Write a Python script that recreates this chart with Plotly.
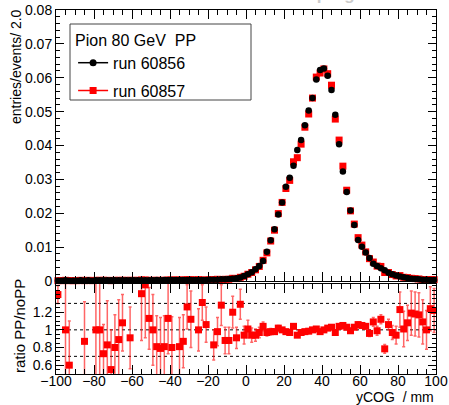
import plotly.graph_objects as go

# bin centres (bin width 2 mm)
ycog = list(range(-99, 100, 2))

run_60856 = [
    0.0001, 0.0001, 0.0002, 0.0001, 0.0001, 0.0001, 0.0002, 0.0001, 0.0002, 0.0001,
    0.0002, 0.0002, 0.0002, 0.0002, 0.0002, 0.0002, 0.0002, 0.0002, 0.0002, 0.0002,
    0.0002, 0.0002, 0.0002, 0.0002, 0.0002, 0.0002, 0.0003, 0.0002, 0.0003, 0.0003,
    0.0003, 0.0003, 0.0003, 0.0003, 0.0003, 0.0003, 0.0003, 0.0003, 0.0003, 0.0003,
    0.0004, 0.0004, 0.0004, 0.0005, 0.0005, 0.0006, 0.0007, 0.0008, 0.0010, 0.0015,
    0.0020, 0.0026, 0.0035, 0.0044, 0.0059, 0.0086, 0.0120, 0.0153, 0.0196, 0.0232,
    0.0278, 0.0305, 0.0340, 0.0387, 0.0416, 0.0460, 0.0503, 0.0540, 0.0595, 0.0623,
    0.0627, 0.0606, 0.0564, 0.0491, 0.0404, 0.0323, 0.0263, 0.0208, 0.0165, 0.0121,
    0.0101, 0.0084, 0.0068, 0.0051, 0.0044, 0.0038, 0.0032, 0.0024, 0.0020, 0.0016,
    0.0013, 0.0011, 0.0009, 0.0007, 0.0006, 0.0005, 0.0004, 0.0004, 0.0003, 0.0003,
]

run_60857 = [
    0.0001, 0.0001, 0.0002, 0.0001, 0.0001, 0.0001, 0.0002, 0.0001, 0.0002, 0.0001,
    0.0002, 0.0002, 0.0002, 0.0002, 0.0001, 0.0002, 0.0002, 0.0002, 0.0002, 0.0002,
    0.0002, 0.0002, 0.0003, 0.0003, 0.0002, 0.0002, 0.0002, 0.0002, 0.0002, 0.0003,
    0.0003, 0.0003, 0.0003, 0.0003, 0.0004, 0.0004, 0.0003, 0.0004, 0.0003, 0.0003,
    0.0004, 0.0004, 0.0005, 0.0004, 0.0005, 0.0005, 0.0008, 0.0007, 0.0011, 0.0014,
    0.0020, 0.0025, 0.0033, 0.0043, 0.0061, 0.0083, 0.0118, 0.0150, 0.0199, 0.0232,
    0.0273, 0.0297, 0.0352, 0.0364, 0.0404, 0.0454, 0.0493, 0.0540, 0.0602, 0.0614,
    0.0626, 0.0612, 0.0578, 0.0478, 0.0416, 0.0339, 0.0268, 0.0207, 0.0168, 0.0128,
    0.0106, 0.0086, 0.0066, 0.0056, 0.0044, 0.0043, 0.0025, 0.0025, 0.0019, 0.0015,
    0.0016, 0.0011, 0.0010, 0.0008, 0.0007, 0.0006, 0.0004, 0.0004, 0.0004, 0.0004,
]

ratio = [
    1.40, None, 1.00, 0.60, None, None, None, 0.87, None, None,
    1.00, 1.00, 0.73, 0.83, 0.55, 0.80, 0.89, 1.08, None, 0.91,
    None, None, 1.41, 1.51, 1.13, 1.00, 0.81, 0.79, 0.81, 1.13,
    0.80, None, 0.81, 0.87, 1.26, 1.12, None, 1.00, 1.31, 1.06,
    None, 0.83, 0.98, 1.28, 0.88, 0.88, 1.20, 0.91, 1.29, 0.94,
    1.01, 0.94, 0.94, 0.97, 1.04, 0.97, 0.98, 0.98, 1.02, 1.00,
    0.98, 0.97, 1.04, 0.94, 0.97, 0.98, 0.985, 1.00, 1.01, 0.98,
    1.00, 1.02, 1.03, 0.97, 1.04, 1.05, 1.03, 0.99, 1.03, 1.06,
    1.05, 1.04, 0.96, 1.09, 0.99, 1.12, 0.785, 1.06, 0.97, 0.94,
    1.23, 1.01, 1.08, 1.19, 1.18, 1.17, 1.09, 1.00, 1.24, 1.22,
]

ratio_err = [
    0.10, 0, 0.60, 0.50, 0, 0, 0, 0.45, 0, 0,
    0.60, 0.60, 0.33, 0.50, 0.45, 0.37, 0.45, 0.32, 0, 0.35,
    0, 0, 0.53, 0.60, 0.35, 0.40, 0.35, 0.35, 0.35, 0.40,
    0.35, 0, 0.33, 0.30, 0.25, 0.32, 0, 0.24, 0.20, 0.20,
    0, 0.17, 0.16, 0.23, 0.15, 0.15, 0.18, 0.12, 0.17, 0.10,
    0.10, 0.08, 0.07, 0.06, 0.05, 0.04, 0.035, 0.03, 0.03, 0.025,
    0.025, 0.02, 0.02, 0.02, 0.02, 0.02, 0.02, 0.02, 0.02, 0.02,
    0.02, 0.02, 0.02, 0.02, 0.02, 0.02, 0.02, 0.025, 0.025, 0.03,
    0.03, 0.03, 0.035, 0.05, 0.05, 0.05, 0.05, 0.06, 0.08, 0.10,
    0.20, 0.20, 0.20, 0.25, 0.25, 0.25, 0.25, 0.22, 0.25, 0.25,
]

legend_header = "Pion 80 GeV  PP"
label_a = "run 60856"
label_b = "run 60857"

FONT = "Liberation Sans, Arial, sans-serif"
RED = "#ff0000"

fig = go.Figure()

# data traces (red below black)
fig.add_trace(go.Scatter(x=ycog, y=run_60857, mode="markers", xaxis="x", yaxis="y",
                         marker=dict(symbol="square", size=7, color=RED, line=dict(width=0)),
                         showlegend=False, cliponaxis=False))
fig.add_trace(go.Scatter(x=ycog, y=run_60856, mode="markers", xaxis="x", yaxis="y",
                         marker=dict(symbol="circle", size=6.5, color="black", line=dict(width=0)),
                         showlegend=False, cliponaxis=False))

# legend entries
fig.add_trace(go.Scatter(x=[None], y=[None], mode="lines+markers", name=label_a,
                         line=dict(color="black", width=1.5),
                         marker=dict(symbol="circle", size=7, color="black"),
                         legendgroup="a", xaxis="x", yaxis="y"))
fig.add_trace(go.Scatter(x=[None], y=[None], mode="lines+markers", name=label_b,
                         line=dict(color=RED, width=1.5),
                         marker=dict(symbol="square", size=7, color=RED),
                         legendgroup="b", xaxis="x", yaxis="y"))

# ratio panel
fig.add_trace(go.Scatter(x=ycog, y=ratio, mode="markers", xaxis="x2", yaxis="y2",
                         marker=dict(symbol="square", size=7, color=RED, line=dict(width=0)),
                         error_y=dict(type="data", array=ratio_err, visible=True,
                                      color="rgba(255,20,20,0.65)", thickness=1.5, width=1.5),
                         showlegend=False))

axis_common = dict(showline=True, linecolor="black", linewidth=1, mirror="allticks",
                   ticks="inside", tickcolor="black", tickwidth=1, showgrid=False,
                   zeroline=False, automargin=False,
                   tickfont=dict(family=FONT, size=14, color="black"))

top_dom = [0.2555, 1.0]
bot_dom = [0.0, 0.2473]

fig.update_layout(
    width=449, height=405,
    margin=dict(l=56, r=13, t=10, b=31, autoexpand=False),
    paper_bgcolor="white", plot_bgcolor="white",
    font=dict(family=FONT, size=14, color="black"),
    xaxis=dict(axis_common, range=[-100, 100], domain=[0, 1], anchor="y",
               showticklabels=False, dtick=20, tick0=0, ticklen=9,
               minor=dict(dtick=5, tick0=0, ticklen=5, ticks="inside", tickcolor="black")),
    yaxis=dict(axis_common, range=[0, 0.08], domain=top_dom, anchor="x",
               dtick=0.01, tick0=0, ticklen=8,
               minor=dict(dtick=0.002, tick0=0, ticklen=4, ticks="inside", tickcolor="black")),
    xaxis2=dict(axis_common, range=[-100, 100], domain=[0, 1], anchor="y2", matches="x",
                showticklabels=True, dtick=20, tick0=0, ticklen=9, ticklabelstandoff=-6,
                minor=dict(dtick=5, tick0=0, ticklen=5, ticks="inside", tickcolor="black")),
    yaxis2=dict(axis_common, range=[0.5, 1.52], domain=bot_dom, anchor="x2",
                tickvals=[0.6, 0.8, 1.0, 1.2], ticktext=["0.6", "0.8", "1", "1.2"], ticklen=8,
                minor=dict(dtick=0.05, tick0=0, ticklen=4, ticks="inside", tickcolor="black")),
    legend=dict(x=0.045, y=(374 - 25) / 364, xanchor="left", yanchor="top",
                bgcolor="rgba(0,0,0,0)", borderwidth=0,
                font=dict(family=FONT, size=16, color="black"),
                title=dict(text=legend_header, font=dict(family=FONT, size=16, color="black")),
                traceorder="grouped", tracegroupgap=4),
    shapes=[
        dict(type="rect", xref="paper", yref="paper",
             x0=(70 - 56) / 380, x1=(251 - 56) / 380,
             y0=(374 - 100) / 364, y1=(374 - 24) / 364,
             line=dict(color="#444", width=1), fillcolor="white", layer="below"),
        dict(type="line", xref="x2", yref="y2", x0=-100, x1=100, y0=1.3, y1=1.3,
             line=dict(color="black", width=1, dash="3px,3px"), layer="below"),
        dict(type="line", xref="x2", yref="y2", x0=-100, x1=100, y0=1.0, y1=1.0,
             line=dict(color="#555", width=1.5, dash="3px,3px"), layer="below"),
        dict(type="line", xref="x2", yref="y2", x0=-100, x1=100, y0=0.7, y1=0.7,
             line=dict(color="black", width=1, dash="3px,3px"), layer="below"),
    ],
    annotations=[
        dict(text="entries/events/ 2.0", textangle=-90, xref="paper", yref="paper",
             x=0, xshift=-40, y=(374 - 67) / 364, xanchor="center", yanchor="middle",
             showarrow=False, font=dict(family=FONT, size=14, color="black")),
        dict(text="ratio PP/noPP", textangle=-90, xref="paper", yref="paper",
             x=0, xshift=-37, y=(374 - 326) / 364, xanchor="center", yanchor="middle",
             showarrow=False, font=dict(family=FONT, size=15, color="black")),
        dict(text="yCOG\u00a0 / mm", xref="paper", yref="paper", x=1, y=(374 - 397) / 364,
             xanchor="right", yanchor="middle", showarrow=False,
             font=dict(family=FONT, size=14, color="black")),
        dict(text="<b>Work in progress</b>", xref="paper", yref="paper",
             x=(320 - 56) / 380, y=1, yshift=4, xanchor="center", yanchor="bottom",
             showarrow=False, font=dict(family=FONT, size=17, color="#cccccc")),
    ],
)

fig.write_html("out.html", config={"displayModeBar": False},
               post_script="document.body.style.margin='0px';")
